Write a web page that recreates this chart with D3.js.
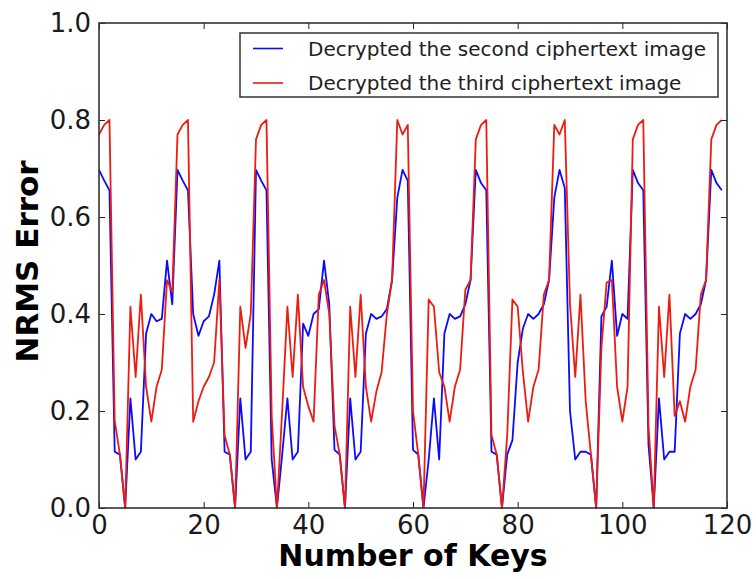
<!DOCTYPE html>
<html>
<head>
<meta charset="utf-8">
<script src="https://cdn.jsdelivr.net/npm/d3@7"></script>
<style>
  body { margin: 0; background: #fff; }
  svg { display: block; font-family: "DejaVu Sans", sans-serif; }
</style>
</head>
<body>
<svg id="chart" width="756" height="579"></svg>
<script>
// NRMS error of the decrypted images, one value per number of keys (0..119)
var secondImage = [0.697, 0.675, 0.655, 0.116, 0.11, 0, 0.226, 0.10, 0.116, 0.36,
  0.40, 0.385, 0.39, 0.51, 0.42, 0.697, 0.675, 0.655, 0.40, 0.355,
  0.385, 0.395, 0.44, 0.51, 0.116, 0.11, 0, 0.226, 0.10, 0.116,
  0.697, 0.675, 0.655, 0.10, 0, 0.11, 0.226, 0.10, 0.116, 0.38,
  0.355, 0.40, 0.41, 0.51, 0.42, 0.12, 0.11, 0, 0.226, 0.10,
  0.116, 0.36, 0.40, 0.39, 0.395, 0.41, 0.47, 0.64, 0.697, 0.675,
  0.12, 0.11, 0, 0.10, 0.226, 0.10, 0.36, 0.40, 0.39, 0.395,
  0.42, 0.47, 0.697, 0.67, 0.655, 0.116, 0.11, 0, 0.11, 0.14,
  0.30, 0.37, 0.40, 0.39, 0.40, 0.42, 0.47, 0.64, 0.697, 0.66,
  0.2, 0.10, 0.116, 0.116, 0.11, 0, 0.395, 0.415, 0.51, 0.355,
  0.40, 0.39, 0.697, 0.67, 0.655, 0.13, 0, 0.226, 0.10, 0.116,
  0.116, 0.36, 0.40, 0.39, 0.40, 0.42, 0.47, 0.697, 0.67, 0.655];

var thirdImage = [0.77, 0.79, 0.80, 0.18, 0.11, 0, 0.415, 0.27, 0.44, 0.25,
  0.178, 0.25, 0.285, 0.47, 0.445, 0.77, 0.79, 0.80, 0.178, 0.22,
  0.25, 0.27, 0.30, 0.47, 0.15, 0.11, 0, 0.415, 0.33, 0.40,
  0.76, 0.79, 0.80, 0.19, 0, 0.2, 0.415, 0.27, 0.44, 0.25,
  0.21, 0.178, 0.44, 0.47, 0.40, 0.17, 0.11, 0, 0.415, 0.27,
  0.44, 0.25, 0.178, 0.24, 0.28, 0.40, 0.47, 0.80, 0.77, 0.79,
  0.2, 0.11, 0, 0.43, 0.415, 0.28, 0.25, 0.178, 0.25, 0.285,
  0.45, 0.47, 0.76, 0.79, 0.80, 0.15, 0.11, 0, 0.15, 0.43,
  0.415, 0.28, 0.178, 0.25, 0.285, 0.44, 0.47, 0.79, 0.77, 0.80,
  0.42, 0.27, 0.44, 0.22, 0.11, 0, 0.33, 0.465, 0.47, 0.25,
  0.178, 0.25, 0.76, 0.79, 0.80, 0.17, 0, 0.415, 0.27, 0.44,
  0.19, 0.22, 0.178, 0.25, 0.285, 0.44, 0.47, 0.76, 0.79, 0.80];

var seriesNames = ["Decrypted the second ciphertext image", "Decrypted the third ciphertext image"];
var seriesColors = ["#0a0aff", "#ec1c10"];
var xTicks = [0, 20, 40, 60, 80, 100, 120];
var yTicks = [0.0, 0.2, 0.4, 0.6, 0.8, 1.0];

var svg = d3.select("#chart");
var margin = { top: 23, right: 29, bottom: 71, left: 99 };
var width = 756 - margin.left - margin.right,
    height = 579 - margin.top - margin.bottom;

var x = d3.scaleLinear().domain([0, 120]).range([0, width]);
var y = d3.scaleLinear().domain([0, 1]).range([height, 0]);

var g = svg.append("g").attr("transform", "translate(" + margin.left + "," + margin.top + ")");

// lines
var line = d3.line()
    .x(function (d, i) { return x(i); })
    .y(function (d) { return y(d); });

[secondImage, thirdImage].forEach(function (s, k) {
  g.append("path")
    .datum(s)
    .attr("fill", "none")
    .attr("stroke", seriesColors[k])
    .attr("stroke-width", 1.8)
    .attr("stroke-linejoin", "round")
    .attr("d", line);
});

// axes, ticks inside on all sides (classic matplotlib)
function styleAxis(sel, labels) {
  sel.select(".domain").remove();
  sel.selectAll(".tick line").attr("stroke", "#222").attr("stroke-width", 1);
  sel.selectAll(".tick text")
    .attr("fill", labels ? "#1a1a1a" : "none")
    .style("font-size", "26px")
    .style("font-family", "DejaVu Sans, sans-serif");
}

g.append("g")
  .attr("transform", "translate(0," + height + ")")
  .call(d3.axisBottom(x).tickValues(xTicks).tickSize(-6).tickPadding(8).tickFormat(d3.format("d")))
  .call(styleAxis, true);

g.append("g")
  .call(d3.axisTop(x).tickValues(xTicks).tickSize(-6).tickFormat(""))
  .call(styleAxis, false);

g.append("g")
  .call(d3.axisLeft(y).tickValues(yTicks).tickSize(-6).tickPadding(8).tickFormat(d3.format(".1f")))
  .call(styleAxis, true);

g.append("g")
  .attr("transform", "translate(" + width + ",0)")
  .call(d3.axisRight(y).tickValues(yTicks).tickSize(-6).tickFormat(""))
  .call(styleAxis, false);

// frame
g.append("rect")
  .attr("width", width)
  .attr("height", height)
  .attr("fill", "none")
  .attr("stroke", "#333")
  .attr("stroke-width", 1.6);

// axis titles
svg.append("text")
  .attr("x", margin.left + width / 2)
  .attr("y", 566)
  .attr("text-anchor", "middle")
  .style("font-size", "30px")
  .style("font-weight", "bold")
  .text("Number of Keys");

svg.append("text")
  .attr("transform", "translate(38," + (margin.top + height / 2 - 4) + ") rotate(-90)")
  .attr("text-anchor", "middle")
  .style("font-size", "31px")
  .style("font-weight", "bold")
  .text("NRMS Error");

// legend
var legend = svg.append("g").attr("transform", "translate(240,33)");
legend.append("rect")
  .attr("width", 478)
  .attr("height", 64)
  .attr("fill", "#fff")
  .attr("stroke", "#333")
  .attr("stroke-width", 1.5);

var rows = legend.selectAll(".row")
  .data(seriesNames)
  .enter()
  .append("g")
  .attr("transform", function (d, i) { return "translate(0," + (15.5 + i * 34.5) + ")"; });

rows.append("line")
  .attr("x1", 13).attr("x2", 43)
  .attr("stroke", function (d, i) { return seriesColors[i]; })
  .attr("stroke-width", 1.6);

rows.append("text")
  .attr("x", 68)
  .attr("dy", "0.35em")
  .attr("fill", "#222")
  .style("font-size", "20px")
  .text(function (d) { return d; });
</script>
</body>
</html>
